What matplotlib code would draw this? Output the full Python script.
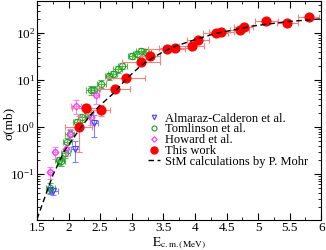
import matplotlib
matplotlib.use('Agg')
import matplotlib.pyplot as plt
from matplotlib.ticker import LogLocator, MultipleLocator, NullFormatter

plt.rcParams['font.family'] = ['Liberation Serif', 'DejaVu Serif']
plt.rcParams['mathtext.fontset'] = 'stix'

# Almaraz-Calderon et al.
alm_E = [1.70, 1.76, 2.10, 2.40]
alm_s = [0.045, 0.043, 0.34, 1.2]
alm_dE = [0.05, 0.07, 0.06, 0.06]
alm_ds = [0.008, 0.008, 0.16, 0.6]

# Tomlinson et al.
tom_E = [1.71, 1.85, 1.88, 1.95, 1.98, 2.02, 2.14, 2.22, 2.31,
         2.35, 2.41, 2.52, 2.64, 2.70, 2.78, 2.85, 3.01, 3.09, 3.14, 3.23]
tom_s = [0.051, 0.195, 0.186, 0.28, 0.48, 0.71, 1.25, 1.6, 1.9,
         6.1, 6.1, 8.3, 12.0, 13.7, 17.2, 20.0, 33.0, 36.0, 41.0, 40.0]
tom_dE = [0.07, 0.07, 0.07, 0.07, 0.07, 0.07, 0.07, 0.07, 0.07,
          0.07, 0.07, 0.07, 0.07, 0.07, 0.07, 0.07, 0.07, 0.07, 0.07, 0.08]
tom_ds = [0.012, 0.04, 0.04, 0.06, 0.1, 0.15, 0.25, 0.3, 0.35,
          1.2, 1.2, 1.5, 2.0, 2.2, 2.8, 3.2, 5.0, 5.5, 6.0, 6.0]

# Howard et al.
how_E = [1.70, 1.79, 1.96, 2.03, 2.12, 2.36, 2.44]
how_s = [0.11, 0.29, 0.34, 0.72, 2.8, 1.6, 4.7]
how_dE = [0.03, 0.03, 0.03, 0.03, 0.08, 0.04, 0.04]
how_ds = [0.03, 0.08, 0.1, 0.2, 0.9, 0.5, 1.6]

# This work
tw_E = [2.16, 2.28, 2.51, 2.73, 2.905, 3.14, 3.29, 3.55, 3.68,
        3.95, 4.05, 4.33, 4.42, 4.71, 4.77, 5.13, 5.465, 5.80]
tw_s = [0.99, 2.5, 2.3, 6.5, 11.0, 24.7, 33.2, 45.0, 47.0,
        54.0, 72.0, 102.0, 107.0, 116.0, 132.0, 182.0, 160.0, 214.0]
tw_dE = [0.21, 0.22, 0.15, 0.24, 0.3, 0.3, 0.16, 0.3, 0.25,
         0.2, 0.18, 0.2, 0.2, 0.15, 0.15, 0.18, 0.16, 0.17]
tw_ds = [0.7, 0.6, 0.6, 0.5, 0.6, 1.0, 1.5, 2.0, 2.0,
         2.0, 3.0, 4.0, 4.0, 5.0, 5.0, 7.0, 6.0, 8.0]

# StM calculations by P. Mohr
stm_E = [1.5, 1.75, 1.94, 2.16, 2.33, 2.5, 2.73, 2.905, 3.14, 3.3,
         3.5, 3.72, 4.05, 4.33, 4.92, 5.45, 6.0]
stm_s = [0.011, 0.094, 0.32, 0.84, 1.7, 2.9, 5.5, 10.3, 20.0, 28.0,
         40.0, 54.0, 76.0, 98.0, 141.0, 174.0, 200.0]

fig = plt.figure(figsize=(3.26, 2.5), dpi=100)
ax = fig.add_axes([0.1135, 0.12, 0.872, 0.876])

eb = dict(elinewidth=0.8, capsize=2, capthick=0.8)
h1 = ax.errorbar(alm_E, alm_s, xerr=alm_dE, yerr=alm_ds, fmt='v', color='#4040ff',
                 mfc='none', ms=4, mew=0.8, ecolor='#8080ff', **eb)
h2 = ax.errorbar(tom_E, tom_s, xerr=tom_dE, yerr=tom_ds, fmt='o', color='#22a022',
                 mfc='none', ms=4.5, mew=0.8, ecolor='#55b855', **eb)
h3 = ax.errorbar(how_E, how_s, xerr=how_dE, yerr=how_ds, fmt='D', color='#ff30ff',
                 mfc='none', ms=3.5, mew=0.8, ecolor='#ff80ff', **eb)
h4 = ax.errorbar(tw_E, tw_s, xerr=tw_dE, yerr=tw_ds, fmt='o', color='#ff0000',
                 ms=6.3, ecolor='#ff8080', zorder=4, **eb)
h5, = ax.plot(stm_E, stm_s, '--', color='black', lw=1.0, dashes=(4, 2.5), zorder=5)

ax.set_yscale('log')
ax.set_xlim(1.5, 6)
ax.set_ylim(0.0105, 480)
ax.xaxis.set_major_locator(MultipleLocator(0.5))
ax.xaxis.set_minor_locator(MultipleLocator(0.25))
ax.xaxis.set_major_formatter(plt.FuncFormatter(lambda v, p: ('%g' % v)))
ax.yaxis.set_major_locator(LogLocator(base=10, numticks=10))
ax.yaxis.set_minor_locator(LogLocator(base=10, subs=range(2, 10), numticks=20))
ax.yaxis.set_minor_formatter(NullFormatter())
ax.tick_params(which='both', direction='in', top=True, right=True)
ax.tick_params(axis='x', labelsize=9.5, pad=1.5)
ax.tick_params(axis='y', labelsize=9.5, pad=1.5)
ax.tick_params(which='major', length=5, width=0.8)
ax.tick_params(which='minor', length=2.5, width=0.6)
for sp in ax.spines.values():
    sp.set_linewidth(0.8)

ax.set_xlabel(r'$\mathrm{E}_{\mathrm{c.m.(MeV)}}$', fontsize=9.5)
ax.xaxis.set_label_coords(0.5, -0.068, transform=ax.transAxes)
ax.xaxis.label.set_va('top')
ax.set_ylabel('σ(mb)', fontsize=9.5)
ax.yaxis.set_label_coords(-0.078, 0.44)

handles = [h1[0], h2[0], h3[0], h4[0], h5]
labels = ['Almaraz-Calderon et al.', 'Tomlinson et al.', 'Howard et al.',
          'This work', 'StM calculations by P. Mohr']
ax.legend(handles, labels, loc='upper left', bbox_to_anchor=(0.392, 0.49),
          frameon=False, fontsize=9, handlelength=0.9, handletextpad=0.45,
          labelspacing=-0.1, borderpad=0, borderaxespad=0, markerscale=0.8)

fig.savefig('out.png', dpi=100)
